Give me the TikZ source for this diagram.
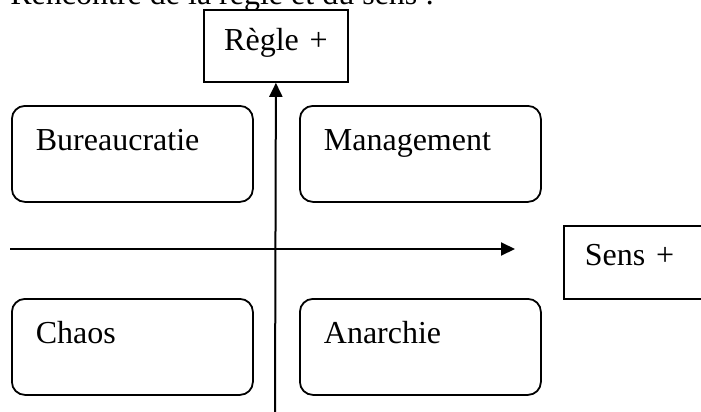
\documentclass[tikz,border=0pt]{standalone}
\usepackage{fontspec}
\setmainfont{Liberation Serif}
\usetikzlibrary{arrows.meta}
\tikzset{
  quad/.style={draw, line width=0.9pt, rounded corners=6.5pt, anchor=north west,
    inner xsep=12pt, inner ysep=0pt, text width=96.5pt, align=left,
    text height=22.5pt, text depth=25.5pt},
  axisbox/.style={draw, line width=0.9pt, anchor=north west, inner ysep=0pt},
  axisline/.style={line width=1pt, -{Triangle[length=7pt,width=6.5pt]}}
}
\begin{document}
\begin{tikzpicture}[x=0.5pt, y=-0.5pt, font=\fontsize{16}{19}\selectfont]
      \useasboundingbox (0,0) rectangle (701,412);
      \clip (0,0) rectangle (701,412);
      \draw
        (10,4) node[anchor=base west, inner sep=0pt] (title){Rencontre de la règle et du sens :}
        (203,9) node[axisbox, inner xsep=0pt, text width=72pt, align=center,
          text height=20.5pt, text depth=15.5pt] (regle){Règle +}
        (563,225) node[axisbox, inner xsep=10.5pt, text width=51pt, align=left,
          text height=20pt, text depth=16.5pt] (sens){Sens +}
        (11,105) node[quad] (bureau){Bureaucratie}
        (299,105) node[quad] (manag){Management}
        (11,298) node[quad] (chaos){Chaos}
        (299,298) node[quad] (anarch){Anarchie};
      \coordinate (bas) at (275,414);
      \coordinate (gauche) at (10,249);
      \coordinate (droite) at (515,249);
      \begin{scope}[axisline]
        \draw (bas) to (regle.south);
        \draw (gauche) to (droite);
      \end{scope}
    \end{tikzpicture}
\end{document}
